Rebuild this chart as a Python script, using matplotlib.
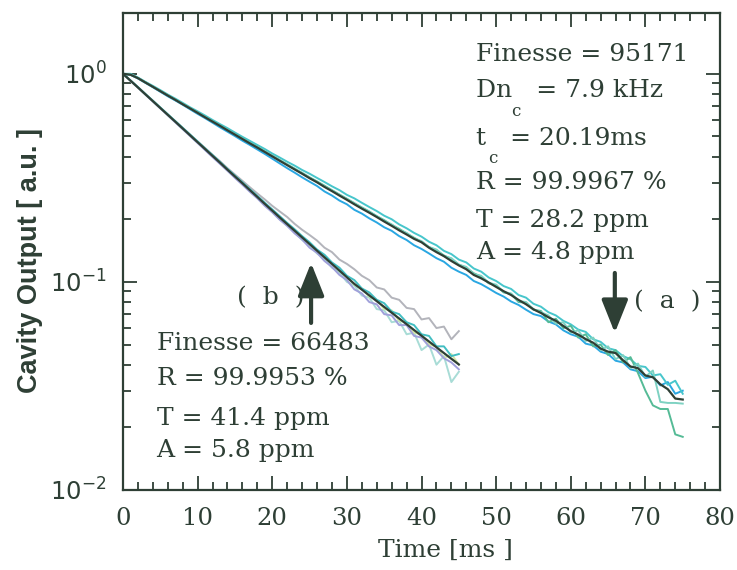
import numpy as np
import matplotlib
matplotlib.use('Agg')
import matplotlib.pyplot as plt
from matplotlib.ticker import MultipleLocator, LogLocator, NullFormatter

plt.rcParams['mathtext.fontset'] = 'dejavuserif'
serif = 'DejaVu Serif'
ink = '#2e3f35'

# time axis of the two ring-down records (ms)
t_a = np.arange(0, 76)
t_b = np.arange(0, 46)

# (a) ring-down traces
a_blue = [1.00, 0.99, 0.95, 0.905, 0.862, 0.82, 0.78, 0.745, 0.71, 0.675, 0.642, 0.612, 0.582, 0.553, 0.527, 0.502,
          0.477, 0.455, 0.433, 0.412, 0.391, 0.371, 0.352, 0.335, 0.318, 0.303, 0.289, 0.272, 0.26, 0.246, 0.236,
          0.222, 0.213, 0.202, 0.193, 0.183, 0.176, 0.166, 0.159, 0.150, 0.144, 0.137, 0.130, 0.125, 0.117, 0.112,
          0.108, 0.101, 0.0975, 0.093, 0.0885, 0.085, 0.0805, 0.0775, 0.0735, 0.0700, 0.0685, 0.0645, 0.0625,
          0.0585, 0.0560, 0.0545, 0.0505, 0.0495, 0.0462, 0.0450, 0.0418, 0.0410, 0.0380, 0.0372, 0.0345, 0.0350,
          0.0318, 0.0330, 0.0290, 0.0300]
a_cyan = [1.00, 1.00, 0.96, 0.915, 0.875, 0.835, 0.795, 0.76, 0.725, 0.69, 0.66, 0.63, 0.60, 0.573, 0.548, 0.522,
          0.498, 0.476, 0.455, 0.435, 0.414, 0.396, 0.378, 0.362, 0.345, 0.331, 0.316, 0.302, 0.288, 0.276, 0.262,
          0.252, 0.24, 0.229, 0.219, 0.208, 0.200, 0.189, 0.181, 0.172, 0.165, 0.156, 0.150, 0.141, 0.136, 0.128,
          0.124, 0.116, 0.112, 0.105, 0.101, 0.0955, 0.0925, 0.0865, 0.0840, 0.0785, 0.0760, 0.0715, 0.0690,
          0.0650, 0.0625, 0.0590, 0.0575, 0.0530, 0.0515, 0.0480, 0.0470, 0.0440, 0.0425, 0.0395, 0.0390, 0.0355,
          0.0360, 0.0320, 0.0335, 0.0290]
a_green = [1.00, 0.99, 0.955, 0.91, 0.868, 0.828, 0.79, 0.752, 0.717, 0.684, 0.652, 0.62, 0.592, 0.565, 0.538, 0.513,
           0.489, 0.466, 0.445, 0.424, 0.404, 0.385, 0.367, 0.35, 0.334, 0.318, 0.304, 0.29, 0.276, 0.263, 0.251,
           0.239, 0.228, 0.218, 0.207, 0.198, 0.188, 0.180, 0.171, 0.163, 0.156, 0.147, 0.142, 0.134, 0.129, 0.121,
           0.117, 0.110, 0.106, 0.0985, 0.0960, 0.0890, 0.0875, 0.0800, 0.0795, 0.0735, 0.0725, 0.0640, 0.0665,
           0.0600, 0.0615, 0.0540, 0.0560, 0.0490, 0.0500, 0.0445, 0.0470, 0.0410, 0.0435, 0.0365, 0.0300, 0.0255,
           0.0245, 0.0245, 0.0185, 0.0180]
a_aqua = [1.00, 0.995, 0.952, 0.91, 0.866, 0.826, 0.788, 0.75, 0.716, 0.682, 0.65, 0.62, 0.59, 0.563, 0.537, 0.512,
          0.488, 0.465, 0.443, 0.423, 0.403, 0.384, 0.366, 0.349, 0.333, 0.317, 0.302, 0.288, 0.275, 0.262, 0.25,
          0.238, 0.227, 0.217, 0.207, 0.196, 0.189, 0.178, 0.172, 0.162, 0.157, 0.147, 0.143, 0.133, 0.130, 0.121,
          0.118, 0.109, 0.107, 0.099, 0.097, 0.0895, 0.0880, 0.0810, 0.0800, 0.0740, 0.0715, 0.0690, 0.0630,
          0.0640, 0.0570, 0.0585, 0.0520, 0.0540, 0.0470, 0.0490, 0.0425, 0.0445, 0.0385, 0.0405, 0.0350, 0.0375,
          0.0265, 0.0262, 0.0262, 0.0260]
a_mean = [1.000, 0.990, 0.953, 0.908, 0.866, 0.825, 0.786, 0.750, 0.714, 0.681, 0.649, 0.618, 0.589, 0.562, 0.535,
          0.510, 0.486, 0.463, 0.442, 0.421, 0.401, 0.382, 0.364, 0.347, 0.331, 0.315, 0.301, 0.286, 0.273, 0.260,
          0.248, 0.236, 0.225, 0.215, 0.205, 0.195, 0.186, 0.177, 0.169, 0.161, 0.155, 0.146, 0.139, 0.133, 0.126,
          0.120, 0.115, 0.108, 0.104, 0.0993, 0.0946, 0.0902, 0.0865, 0.0819, 0.0781, 0.0738, 0.0709, 0.0676,
          0.0650, 0.0614, 0.0580, 0.0558, 0.0531, 0.0510, 0.0478, 0.0462, 0.0455, 0.0420, 0.0392, 0.0385, 0.0355,
          0.0348, 0.0322, 0.0305, 0.0275, 0.0272]

# (b) ring-down traces
b_gray = [1.0, 0.93, 0.862, 0.8, 0.742, 0.688, 0.638, 0.592, 0.55, 0.51, 0.473, 0.44, 0.408, 0.38, 0.352, 0.328,
          0.306, 0.285, 0.266, 0.249, 0.232, 0.218, 0.205, 0.19, 0.178, 0.168, 0.158, 0.146, 0.139, 0.128, 0.122,
          0.115, 0.107, 0.102, 0.094, 0.092, 0.084, 0.082, 0.075, 0.074, 0.066, 0.067, 0.060, 0.061, 0.053, 0.058]
b_aqua = [1.0, 0.925, 0.858, 0.795, 0.737, 0.683, 0.633, 0.586, 0.543, 0.503, 0.466, 0.432, 0.4, 0.371, 0.343,
          0.318, 0.295, 0.273, 0.253, 0.234, 0.217, 0.2, 0.186, 0.173, 0.159, 0.149, 0.137, 0.129, 0.117, 0.111, 0.1,
          0.096, 0.086, 0.084, 0.074, 0.073, 0.064, 0.065, 0.056, 0.057, 0.047, 0.050, 0.040, 0.044, 0.033, 0.037]
b_yellow = [1.0, 0.928, 0.86, 0.798, 0.74, 0.686, 0.636, 0.59, 0.547, 0.507, 0.47, 0.436, 0.404, 0.375, 0.347,
            0.322, 0.299, 0.277, 0.257, 0.238, 0.221, 0.205, 0.19, 0.177, 0.164, 0.152, 0.142, 0.131, 0.123, 0.113,
            0.106, 0.097, 0.093, 0.085, 0.082, 0.074, 0.073, 0.065, 0.064, 0.057, 0.056, 0.050, 0.049, 0.043,
            0.045, 0.040]
b_lav = [1.0, 0.926, 0.858, 0.795, 0.736, 0.682, 0.632, 0.585, 0.542, 0.502, 0.465, 0.43, 0.398, 0.369, 0.342, 0.316,
         0.293, 0.271, 0.252, 0.232, 0.216, 0.199, 0.186, 0.171, 0.16, 0.146, 0.138, 0.126, 0.118, 0.108, 0.102,
         0.092, 0.088, 0.080, 0.078, 0.070, 0.069, 0.062, 0.062, 0.055, 0.054, 0.049, 0.047, 0.043, 0.041, 0.038]
b_teal = [1.0, 0.93, 0.864, 0.8, 0.743, 0.689, 0.639, 0.593, 0.55, 0.51, 0.473, 0.438, 0.407, 0.377, 0.349, 0.324,
          0.301, 0.279, 0.259, 0.24, 0.223, 0.207, 0.192, 0.179, 0.166, 0.155, 0.143, 0.135, 0.124, 0.117, 0.107,
          0.102, 0.093, 0.089, 0.082, 0.079, 0.072, 0.070, 0.064, 0.062, 0.056, 0.055, 0.049, 0.049, 0.044, 0.045]
b_mean = [1.000, 0.927, 0.860, 0.797, 0.739, 0.685, 0.635, 0.589, 0.546, 0.506, 0.469, 0.435, 0.403, 0.374, 0.346,
          0.321, 0.298, 0.276, 0.256, 0.237, 0.220, 0.204, 0.1895, 0.1761, 0.1636, 0.1520, 0.1412, 0.1312, 0.1219,
          0.1133, 0.1052, 0.0978, 0.0918, 0.0861, 0.0808, 0.0758, 0.0711, 0.0667, 0.0626, 0.0587, 0.0551, 0.0517,
          0.0485, 0.0455, 0.0427, 0.0401]

traces_a = [a_blue, a_cyan, a_green, a_aqua]
colors_a = ['#2aa7e2', '#47c6cc', '#55bb96', '#7ed2c2']
traces_b = [b_gray, b_aqua, b_yellow, b_lav, b_teal]
colors_b = ['#b3b4bb', '#a8dcd6', '#d6e7a6', '#a0a0da', '#42bec2']

fig = plt.figure(figsize=(7.37, 5.70), dpi=100)
ax = fig.add_axes([0.1669, 0.1404, 0.8101, 0.8368])

for vals, c in zip(traces_b, colors_b):
    ax.plot(t_b, vals, color=c, lw=1.4)
ax.plot(t_b, b_mean, color=ink, lw=1.6)
for vals, c in zip(traces_a, colors_a):
    ax.plot(t_a, vals, color=c, lw=1.4)
ax.plot(t_a, a_mean, color=ink, lw=1.6)

ax.set_yscale('log')
ax.set_xlim(0, 80)
ax.set_ylim(0.01, 1.96)
ax.xaxis.set_major_locator(MultipleLocator(10))
ax.xaxis.set_minor_locator(MultipleLocator(2))
ax.yaxis.set_minor_locator(LogLocator(base=10, subs=range(2, 10)))
ax.yaxis.set_minor_formatter(NullFormatter())
ax.set_yticks([0.01, 0.1, 1], labels=[r'$\mathregular{10^{-2}}$', r'$\mathregular{10^{-1}}$', r'$\mathregular{10^{0}}$'])
ax.tick_params(which='both', direction='in', top=True, right=True, color=ink, width=1.3, labelcolor=ink)
ax.tick_params(which='major', length=10, labelsize=17.5, pad=12)
ax.tick_params(which='minor', length=6)
for lab in ax.get_xticklabels():
    lab.set_fontfamily(serif)
for sp in ax.spines.values():
    sp.set_color(ink)
    sp.set_linewidth(1.6)

ax.set_xlabel('Time [ms ]', fontsize=18, fontfamily=serif, color=ink, va='center')
ax.xaxis.set_label_coords(0.54, -0.126)
ax.set_ylabel('Cavity Output [ a.u. ]', fontsize=19.5, fontweight='bold', fontfamily='Liberation Sans', color=ink,
              va='center')
ax.yaxis.set_label_coords(-0.155, 0.482)

# annotation blocks
txt = dict(fontsize=18, fontfamily=serif, color=ink, va='center', ha='left')
sub = dict(fontsize=12, fontfamily=serif, color=ink, va='center', ha='center')
ax.text(47.3, 1.234, 'Finesse = 95171', **txt)
ax.text(47.3, 0.830, 'Dn   = 7.9 kHz', **txt)
ax.text(52.6, 0.662, 'c', **sub)
ax.text(47.3, 0.491, 't   = 20.19ms', **txt)
ax.text(49.6, 0.393, 'c', **sub)
ax.text(47.3, 0.302, 'R = 99.9967 %', **txt)
ax.text(47.3, 0.197, 'T = 28.2 ppm', **txt)
ax.text(47.3, 0.139, 'A = 4.8 ppm', **txt)

ax.text(4.5, 0.0508, 'Finesse = 66483', **txt)
ax.text(4.5, 0.0345, 'R = 99.9953 %', **txt)
ax.text(4.5, 0.0221, 'T = 41.4 ppm', **txt)
ax.text(4.5, 0.0155, 'A = 5.8 ppm', **txt)

ax.text(72.9, 0.0801, '(  a  )', fontsize=18, fontfamily=serif, color=ink, va='center', ha='center')
ax.text(19.8, 0.0838, '(  b  )', fontsize=18, fontfamily=serif, color=ink, va='center', ha='center')

arrow = dict(arrowstyle='-|>,head_length=1.0,head_width=0.4', lw=3, color=ink, mutation_scale=20, shrinkA=0, shrinkB=0)
ax.annotate('', xy=(25.2, 0.1234), xytext=(25.2, 0.0635), arrowprops=arrow)
ax.annotate('', xy=(65.9, 0.0569), xytext=(65.9, 0.1104), arrowprops=arrow)

fig.savefig('out.png', dpi=100)
